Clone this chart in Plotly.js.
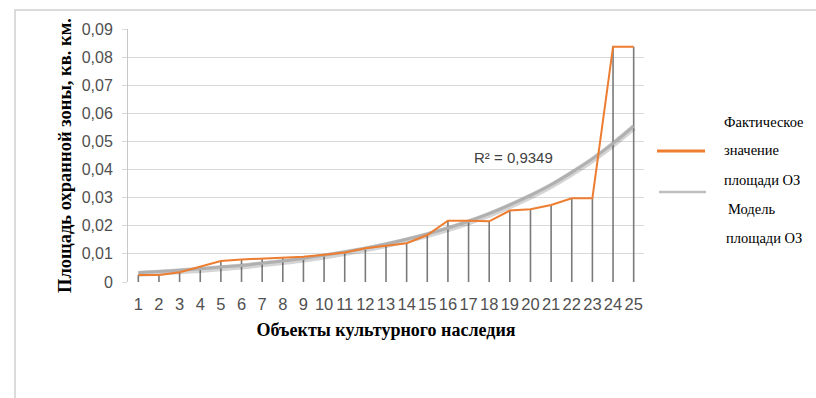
<!DOCTYPE html>
<html>
<head>
<meta charset="utf-8">
<script src="https://cdn.plot.ly/plotly-3.0.1.min.js"></script>
<style>html,body{margin:0;padding:0;background:#fff;}#chart{width:816px;height:398px;}</style>
</head>
<body>
<div id="chart"></div>
<script>
// ---- data ----
const categories = ['1','2','3','4','5','6','7','8','9','10','11','12','13','14','15','16','17','18','19','20','21','22','23','24','25'];
const actualValues = [0.0025,0.0025,0.0035,0.0055,0.0075,0.008,0.0083,0.0087,0.009,0.0097,0.0105,0.012,0.013,0.0138,0.0167,0.0218,0.0218,0.0216,0.0254,0.0259,0.0274,0.0298,0.0298,0.0837,0.0837];
const modelValues = [0.0033,0.0037,0.0042,0.0047,0.0053,0.0059,0.0067,0.0075,0.0084,0.0095,0.0107,0.0120,0.0135,0.0152,0.0171,0.0192,0.0216,0.0243,0.0274,0.0308,0.0346,0.0390,0.0438,0.0493,0.0554];
const yTickVals = [0,0.01,0.02,0.03,0.04,0.05,0.06,0.07,0.08,0.09];
const yTickText = ['0','0,01','0,02','0,03','0,04','0,05','0,06','0,07','0,08','0,09'];
const seriesNames = ['Фактическое значение площади ОЗ','Модель площади ОЗ'];
const r2Text = 'R² = 0,9349';
const xTitle = 'Объекты культурного наследия';
const yTitle = 'Площадь охранной зоны, кв. км.';

// ---- layout helpers (pixel -> paper) ----
const L = 128, R = 644, T = 29, B = 282;
const px = x => (x - L) / (R - L);
const py = y => (B - y) / (B - T);

const xIdx = categories.map((c, i) => i + 1);
const zeros = actualValues.map(() => 0);

const traces = [
  { // drop lines
    x: xIdx, y: actualValues, type: 'scatter', mode: 'markers',
    marker: {size: 1, opacity: 0}, showlegend: false, hoverinfo: 'skip',
    error_y: {type: 'data', symmetric: false, array: zeros, arrayminus: actualValues,
      width: 0, color: '#7a7a7a', thickness: 1.6}
  },
  { // model shadow
    x: xIdx, y: modelValues.map(v => v - 0.0004), type: 'scatter', mode: 'lines',
    line: {color: 'rgba(60,60,60,0.22)', width: 6, shape: 'spline'},
    showlegend: false, hoverinfo: 'skip'
  },
  {
    x: xIdx, y: modelValues, type: 'scatter', mode: 'lines', name: seriesNames[1],
    line: {color: '#b0b0b0', width: 3, shape: 'spline'}, showlegend: false
  },
  {
    x: xIdx, y: actualValues, type: 'scatter', mode: 'lines', name: seriesNames[0],
    line: {color: '#ED7D31', width: 2}, showlegend: false
  }
];

const serif = 'Liberation Serif';
const sans = 'Liberation Sans';

const legendLines = [
  {t: 'Фактическое', x: 722, y: 122},
  {t: 'значение', x: 722, y: 150},
  {t: 'площади ОЗ', x: 722, y: 180},
  {t: 'Модель', x: 726, y: 209},
  {t: 'площади ОЗ', x: 724, y: 238}
];

const annotations = legendLines.map(l => ({
  xref: 'paper', yref: 'paper', x: px(l.x), y: py(l.y), xanchor: 'left', yanchor: 'middle',
  text: l.t, showarrow: false, font: {family: serif, size: 14.5, color: '#000'}
}));
annotations.push({
  xref: 'paper', yref: 'paper', x: px(513), y: py(157), xanchor: 'center', yanchor: 'middle',
  text: r2Text, showarrow: false, font: {family: sans, size: 15, color: '#404040'}
});

const shapes = [
  {type: 'line', xref: 'paper', yref: 'paper', x0: px(657), x1: px(705), y0: py(151), y1: py(151),
   line: {color: '#ED7D31', width: 3}},
  {type: 'line', xref: 'paper', yref: 'paper', x0: px(659), x1: px(706), y0: py(192), y1: py(192),
   line: {color: '#bfbfbf', width: 2.5}},
  {type: 'path', xref: 'paper', yref: 'paper',
   path: `M ${px(15)} ${py(398)} L ${px(15)} ${py(10)} L ${px(816)} ${py(10)}`,
   line: {color: '#d0d0d0', width: 1.5}}
];

const layout = {
  width: 816, height: 398,
  margin: {l: L, r: 816 - R, t: T, b: 398 - B, pad: 0},
  paper_bgcolor: '#fff', plot_bgcolor: '#fff',
  showlegend: false,
  xaxis: {
    range: [0.5, 25.5], tickvals: xIdx, ticktext: categories, tickangle: 0,
    showgrid: false, zeroline: false, showline: false, ticks: '',
    ticklabelstandoff: 10,
    tickfont: {family: sans, size: 16.5, color: '#505050'},
    title: {text: '<b>' + xTitle + '</b>', font: {family: serif, size: 18, color: '#000'}, standoff: 11},
    fixedrange: true
  },
  yaxis: {
    range: [0, 0.09], tickvals: yTickVals, ticktext: yTickText,
    showgrid: true, gridcolor: '#d9d9d9', gridwidth: 1,
    zeroline: false, showline: true, linecolor: '#c8c8c8', linewidth: 1,
    ticks: 'outside', ticklen: 5, tickcolor: '#d9d9d9',
    ticklabelstandoff: 6,
    tickfont: {family: sans, size: 16, color: '#505050'},
    title: {text: '<b>' + yTitle + '</b>', font: {family: serif, size: 18.5, color: '#000'}, standoff: 5},
    fixedrange: true
  },
  annotations: annotations,
  shapes: shapes
};

Plotly.newPlot('chart', traces, layout, {displayModeBar: false, staticPlot: true});
</script>
</body>
</html>
